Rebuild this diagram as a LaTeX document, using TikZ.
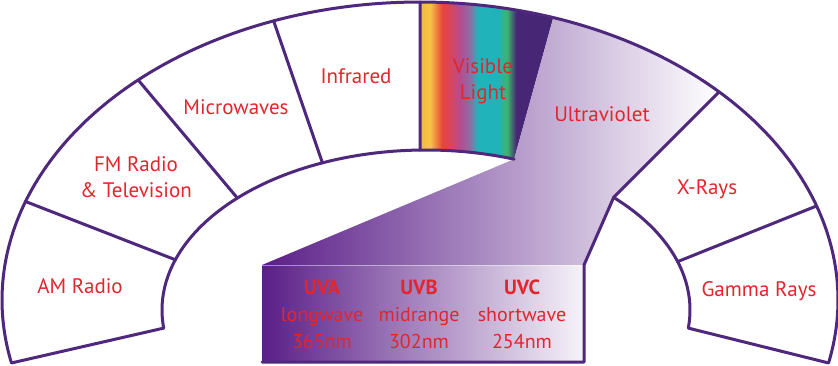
\documentclass[tikz,border=0pt]{standalone}
\usepackage{fontspec}
\setmainfont{PT Sans}
\definecolor{edge}{RGB}{78,40,125}
\definecolor{lbl}{RGB}{225,38,45}
\definecolor{uvdark}{RGB}{90,30,136}
\definecolor{uvmid}{RGB}{160,110,186}
\definecolor{sy}{RGB}{243,185,66}
\definecolor{sy2}{RGB}{246,196,70}
\definecolor{sr}{RGB}{232,68,60}
\definecolor{scr}{RGB}{215,70,95}
\definecolor{sm}{RGB}{182,76,142}
\definecolor{sp}{RGB}{140,110,165}
\definecolor{sc}{RGB}{32,180,186}
\definecolor{sg}{RGB}{62,180,108}
\definecolor{sd}{RGB}{72,38,118}
\pgfdeclarehorizontalshading{spectrum}{100bp}{color(0bp)=(sy); color(25bp)=(sy); color(28.8bp)=(sy2); color(33.3bp)=(sr); color(36.5bp)=(scr); color(40bp)=(sm); color(43.8bp)=(sp); color(46.6bp)=(sc); color(54.3bp)=(sc); color(57.7bp)=(sg); color(61.1bp)=(sd); color(75bp)=(sd); color(100bp)=(sd)}
\tikzset{
  ol/.style={draw=edge, line width=3pt, line join=round, line cap=round},
  lab/.style={text=lbl, font=\fontsize{21}{25}\selectfont, anchor=base, inner sep=0pt},
  boxlab/.style={text=lbl, font=\fontsize{20}{24}\selectfont, anchor=base, inner sep=0pt},
  boxhead/.style={text=lbl, font=\fontsize{20.5}{24}\selectfont\bfseries, anchor=base, inner sep=0pt}
}
\begin{document}
\begin{tikzpicture}[x=1pt, y=-1pt]
\fill[white] (0,0) rectangle (838,366);
\useasboundingbox (0,0) rectangle (838,366);
% coordinates on outer ellipse
\coordinate (O192) at ({420+418*cos(192.2)},{300-298*sin(192.2)});
\coordinate (O160) at ({420+418*cos(160.7)},{300-298*sin(160.7)});
\coordinate (O132) at ({420+418*cos(132.4)},{300-298*sin(132.4)});
\coordinate (O110) at ({420+418*cos(110.5)},{300-298*sin(110.5)});
\coordinate (O90) at ({420+418*cos(90)},{300-298*sin(90)});
\coordinate (O71) at ({420+418*cos(71.4)},{300-298*sin(71.4)});
\coordinate (O44) at ({420+418*cos(44.3)},{300-298*sin(44.3)});
\coordinate (O18) at ({420+418*cos(18.4)},{300-298*sin(18.4)});
\coordinate (Om12) at ({420+418*cos(-12.2)},{300-298*sin(-12.2)});
% coordinates on inner ellipse
\coordinate (I186) at ({426+264*cos(186.5)},{310-160*sin(186.5)});
\coordinate (I161) at ({426+264*cos(161.7)},{310-160*sin(161.7)});
\coordinate (I135) at ({426+264*cos(135.6)},{310-160*sin(135.6)});
\coordinate (I113) at ({426+264*cos(113.1)},{310-160*sin(113.1)});
\coordinate (I91) at ({426+264*cos(91.3)},{310-160*sin(91.3)});
\coordinate (I70) at ({426+264*cos(70.5)},{310-160*sin(70.5)});
\coordinate (I44) at ({426+264*cos(44.7)},{310-160*sin(44.7)});
\coordinate (I17) at ({426+264*cos(17.6)},{310-160*sin(17.6)});
\coordinate (Im6) at ({426+264*cos(-6.5)},{310-160*sin(-6.5)});
% box corners
\coordinate (BTL) at (262,265);
\coordinate (BTR) at (584,265);
\coordinate (BBL) at (262,362);
\coordinate (BBR) at (584,362);

% visible light strip
\shade[shading=spectrum] plot[domain=90:71.4, samples=40, variable=\t] ({420+418*cos(\t)},{300-298*sin(\t)}) -- (I70) -- plot[domain=70.5:91.3, samples=40, variable=\t] ({426+264*cos(\t)},{310-160*sin(\t)}) -- cycle;

% ultraviolet funnel
\shade[left color=uvdark, right color=white] plot[domain=71.4:44.3, samples=60, variable=\t] ({420+418*cos(\t)},{300-298*sin(\t)}) -- (I44) -- (BTR) -- (BTL) -- (I70) -- cycle;

% box
\shade[left color=uvdark, middle color=uvmid, right color=white!95!uvdark] (BTL) rectangle (BBR);
\draw[white, opacity=0.45, line width=1pt] (BTL) -- (BTR);

% outlines
\draw[ol] (I186) -- (O192) -- plot[domain=192.2:-12.2, samples=200, variable=\t] ({420+418*cos(\t)},{300-298*sin(\t)}) -- (Im6) -- plot[domain=-6.5:44.7, samples=60, variable=\t] ({426+264*cos(\t)},{310-160*sin(\t)});
\draw[ol] plot[domain=70.5:186.5, samples=120, variable=\t] ({426+264*cos(\t)},{310-160*sin(\t)});
\draw[ol] (O160) -- (I161);
\draw[ol] (O132) -- (I135);
\draw[ol] (O110) -- (I113);
\draw[ol] (O90) -- (I91);
\draw[ol] (O18) -- (I17);
\draw[ol] (O44) -- (I44) -- (BTR) -- (BBR) -- (BBL);

% labels
\node[lab] (am) at (80,293) {AM Radio};
\node[lab] (fm1) at (136,172) {FM Radio};
\node[lab] (fm2) at (136,198) {\& Television};
\node[lab] (mw) at (236,115) {Microwaves};
\node[lab] (ir) at (356,84) {Infrared};
\node[lab] (vis1) at (483,74) {Visible};
\node[lab] (vis2) at (483,100) {Light};
\node[lab] (uv) at (602,122) {Ultraviolet};
\node[lab] (xr) at (707,195) {X-Rays};
\node[lab] (gr) at (759,296) {Gamma Rays};
\node[boxhead] (uva) at (322,294) {UVA};
\node[boxhead] (uvb) at (419,294) {UVB};
\node[boxhead] (uvc) at (522,294) {UVC};
\node[boxlab] (lw) at (322,321) {longwave};
\node[boxlab] (mr) at (419,321) {midrange};
\node[boxlab] (sw) at (522,321) {shortwave};
\node[boxlab] (n1) at (322,348) {365nm};
\node[boxlab] (n2) at (419,348) {302nm};
\node[boxlab] (n3) at (522,348) {254nm};
\end{tikzpicture}
\end{document}
